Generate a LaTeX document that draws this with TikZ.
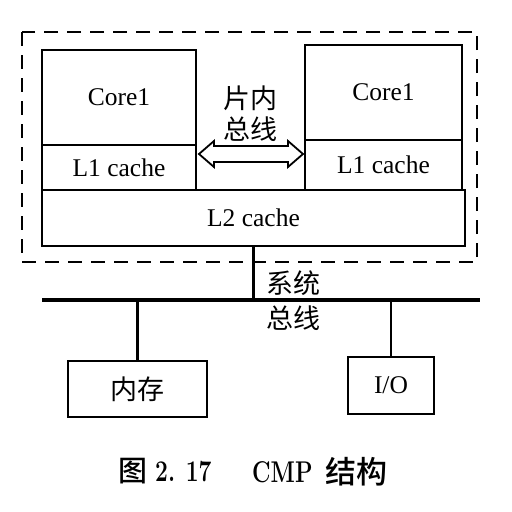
\documentclass[tikz,border=0pt]{standalone}
\usepackage{fontspec}
\newfontfamily\tnr{Liberation Serif}
\newfontfamily\cjk{Noto Sans CJK SC}
\newfontfamily\cjkm{Noto Sans CJK SC Medium}
\usetikzlibrary{calc}
\tikzset{
  box/.style={draw, line width=2pt, inner sep=0pt, font=\tnr\fontsize{25.5}{28}\selectfont},
  cjklabel/.style={inner sep=0pt, font=\cjk\fontsize{27}{30}\selectfont},
  captext/.style={inner sep=0pt, anchor=west},
  bus/.style={line width=3.5pt},
  link/.style={line width=2.2pt},
  frame/.style={draw, line width=1.6pt, dash pattern=on 14pt off 9pt},
}
\begin{document}
\begin{tikzpicture}[x=1pt, y=-1pt]
\useasboundingbox (0,0) rectangle (512,512);
% outer dashed chip boundary
\draw[frame] (22,32) rectangle (477,262);
% left core
\node[box, minimum width=154pt, minimum height=95pt] (coreL) at (119,97.5) {Core1};
\node[box, minimum width=154pt, minimum height=45pt] (l1L) at (119,167.5) {L1 cache};
% right core
\node[box, minimum width=157pt, minimum height=95pt] (coreR) at (383.5,92.5) {Core1};
\node[box, minimum width=157pt, minimum height=50pt] (l1R) at (383.5,165) {L1 cache};
% L2
\node[box, minimum width=423pt, minimum height=56pt] (l2) at (253.5,218) {L2 cache};
% on-chip bus label
\node[cjklabel] (pn) at (250,98) {片内};
\node[cjklabel] (zx1) at (250,129) {总线};
% double arrow
\coordinate (tipL) at ($(l1L.east |- 0,154)+(2,0)$);
\coordinate (tipR) at ($(l1R.west |- 0,154)+(-1,0)$);
\draw[line width=1.8pt, fill=white, line join=miter]
  (tipL) -- ++(15,-13) -- ++(0,5) -- ($(tipR)+(-15,-8)$) -- ++(0,-5) -- (tipR)
  -- ++(-15,13) -- ++(0,-5) -- ($(tipL)+(15,8)$) -- ++(0,5) -- cycle;
% system bus
\coordinate (busL) at (42,300);
\coordinate (busR) at (480,300);
\draw[bus] (busL) -- (busR);
\draw[link] (l2.south) -- (l2.south |- busL);
\node[cjklabel] (xt) at (293,283) {系统};
\node[cjklabel] (zx2) at (293,318) {总线};
% memory and I/O
\node[box, minimum width=139pt, minimum height=56pt] (mem) at (137.5,389) {\cjk\fontsize{27}{30}\selectfont 内存};
\node[box, minimum width=86pt, minimum height=57pt] (io) at (391,385.5) {I/O};
\draw[link] (mem.north) -- (mem.north |- busL);
\draw[link] (io.north) -- (io.north |- busL);
% caption
\node[captext, font=\cjkm\fontsize{29}{30}\selectfont] (cap1) at (118,471.5) {图};
\node[captext, font=\bfseries\fontsize{30}{32}\selectfont] (cap2) at (155,472) {\scalebox{0.76}[1]{2.\hspace{14pt}17}};
\node[captext, font=\bfseries\fontsize{30}{32}\selectfont] (cap3) at (252,472) {\scalebox{0.76}[1]{CMP}};
\node[captext, font=\cjkm\fontsize{31}{32}\selectfont] (cap4) at (325,471.5) {结构};
\end{tikzpicture}
\end{document}
